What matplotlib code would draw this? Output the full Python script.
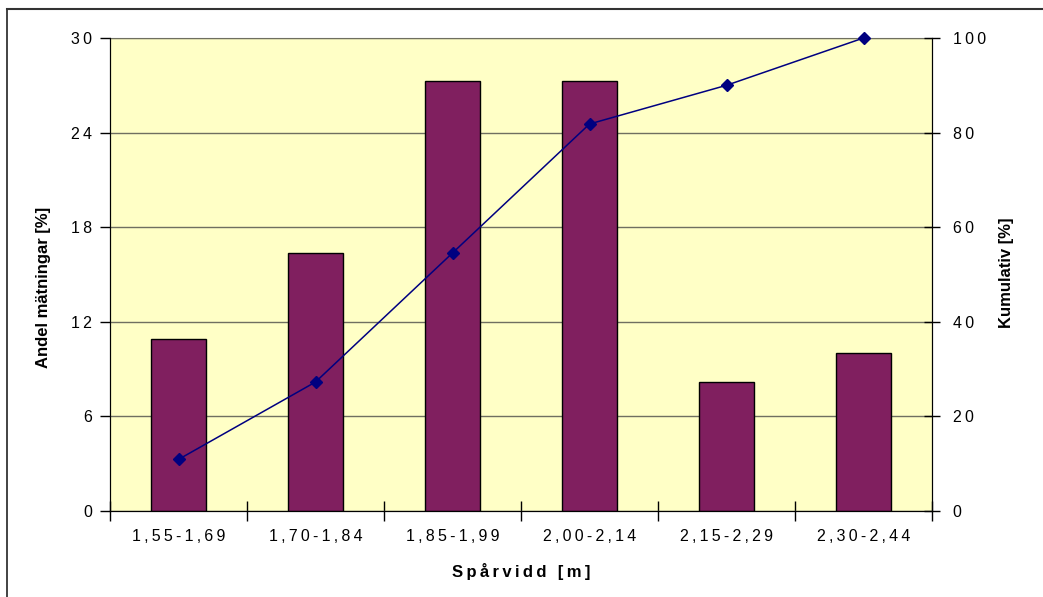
import numpy as np
import matplotlib.pyplot as plt
from matplotlib.lines import Line2D

plt.rcParams['font.family'] = ['Liberation Sans', 'DejaVu Sans']

# andel mätningar per spårviddsintervall (110 mätningar)
klasser = ['1,55-1,69', '1,70-1,84', '1,85-1,99', '2,00-2,14', '2,15-2,29', '2,30-2,44']
andel = [10.91, 16.36, 27.27, 27.27, 8.18, 10.0]
kumulativ = [10.91, 27.27, 54.55, 81.82, 90.0, 100.0]
y_ticks_left = [0, 6, 12, 18, 24, 30]
y_ticks_right = [0, 20, 40, 60, 80, 100]

bar_color = '#801F5F'
line_color = '#000080'
bg_color = '#FFFFC6'
grid_color = '#6F6F60'


def spaced(s):
    # Excel-liknande teckenavstånd
    return '\u2009'.join(s)


fig = plt.figure(figsize=(10.43, 5.97), dpi=100)
ax = fig.add_axes([110 / 1043, 1 - 511 / 597, 822 / 1043, 473 / 597])
ax.set_facecolor(bg_color)

x = np.arange(len(klasser))
ax.bar(x, andel, width=0.4, color=bar_color, edgecolor='black', linewidth=1.0, zorder=3)

ax.set_xlim(-0.5, len(klasser) - 0.5)
ax.set_ylim(0, 30)
ax.set_yticks(y_ticks_left)
ax.set_yticklabels([spaced(str(v)) for v in y_ticks_left])
ax.yaxis.grid(True, color=grid_color, linewidth=1.0, zorder=1)
ax.set_axisbelow(True)

# ticks mellan kategorierna, etiketter i mitten
ax.set_xticks(np.arange(-0.5, len(klasser)), labels=[])
ax.set_xticks(x, labels=[spaced(k) for k in klasser], minor=True)
ax.tick_params(axis='x', which='major', direction='inout', length=14, width=1)
ax.tick_params(axis='x', which='minor', length=0, pad=13, labelsize=11.5)
ax.tick_params(axis='y', direction='out', length=7, width=1, pad=6, labelsize=11.5)

for side in ['left', 'bottom', 'right']:
    ax.spines[side].set_color('black')
ax.spines['top'].set_color(grid_color)

ax2 = ax.twinx()
ax2.plot(x, kumulativ, color=line_color, linewidth=1.1, marker='D', markersize=6,
         markerfacecolor=line_color, markeredgecolor=line_color, zorder=4, clip_on=False)
ax2.set_ylim(0, 100)
ax2.set_yticks(y_ticks_right)
ax2.set_yticklabels([spaced(str(v)) for v in y_ticks_right])
ax2.tick_params(axis='y', direction='inout', length=12, width=1, pad=9, labelsize=11.5)
ax2.spines['right'].set_color('black')
ax2.spines['top'].set_visible(False)

fig.text(44 / 1043, 1 - 287 / 597, 'Andel mätningar [%]', rotation=90, ha='center', va='center',
         fontsize=12, fontweight='bold')
fig.text(1006 / 1043, 1 - 273 / 597, 'Kumulativ [%]', rotation=90, ha='center', va='center',
         fontsize=12, fontweight='bold')
fig.text(521 / 1043, 1 - 571 / 597, spaced('Spårvidd [m]'), ha='center', va='center',
         fontsize=12, fontweight='bold')

# ram runt diagrammet
fig.add_artist(Line2D([7 / 1043, 7 / 1043], [0, 1 - 9 / 597], color='#222222', linewidth=1.2))
fig.add_artist(Line2D([7 / 1043, 1], [1 - 9 / 597, 1 - 9 / 597], color='#333333', linewidth=1.5))

fig.savefig('out.png', dpi=100)
